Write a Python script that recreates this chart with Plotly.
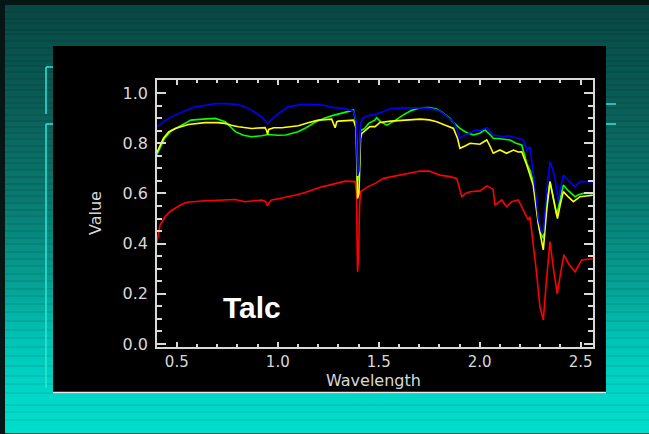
import plotly.graph_objects as go

# ---------------- data ----------------
wl_blue = [0.40, 0.45, 0.49, 0.55, 0.59, 0.65, 0.69, 0.75, 0.79, 0.83, 0.87, 0.92, 0.95, 0.99,
           1.05, 1.10, 1.14, 1.18, 1.22, 1.28, 1.33, 1.375, 1.388, 1.395, 1.402, 1.41, 1.42, 1.45,
           1.48, 1.52, 1.56, 1.62, 1.66, 1.70, 1.75, 1.79, 1.82, 1.85, 1.87, 1.89, 1.90, 1.92,
           1.94, 1.96, 1.98, 2.00, 2.035, 2.05, 2.067, 2.09, 2.117, 2.14, 2.167, 2.19, 2.216,
           2.233, 2.249, 2.265, 2.28, 2.29, 2.305, 2.315, 2.33, 2.348, 2.36, 2.373, 2.389, 2.40,
           2.414, 2.44, 2.472, 2.497, 2.53, 2.56]
refl_blue = [0.865, 0.895, 0.912, 0.932, 0.945, 0.952, 0.958, 0.958, 0.955, 0.948, 0.932, 0.906,
             0.879, 0.91, 0.945, 0.952, 0.955, 0.954, 0.952, 0.942, 0.938, 0.928, 0.89, 0.67,
             0.69, 0.88, 0.899, 0.91, 0.915, 0.925, 0.938, 0.941, 0.942, 0.941, 0.939, 0.932,
             0.919, 0.90, 0.886, 0.85, 0.82, 0.83, 0.839, 0.845, 0.853, 0.85, 0.862, 0.85, 0.833,
             0.83, 0.826, 0.83, 0.826, 0.82, 0.813, 0.773, 0.786, 0.686, 0.58, 0.50, 0.45, 0.441,
             0.60, 0.726, 0.70, 0.66, 0.567, 0.62, 0.673, 0.65, 0.627, 0.647, 0.647, 0.647]

wl_green = [0.40, 0.44, 0.47, 0.51, 0.57, 0.63, 0.69, 0.74, 0.76, 0.79, 0.83, 0.87, 0.92, 0.95,
            1.00, 1.04, 1.10, 1.14, 1.19, 1.23, 1.27, 1.33, 1.375, 1.388, 1.395, 1.402, 1.41,
            1.43, 1.45, 1.48, 1.49, 1.51, 1.54, 1.58, 1.62, 1.66, 1.705, 1.75, 1.787, 1.82,
            1.853, 1.88, 1.902, 1.93, 1.968, 2.00, 2.026, 2.05, 2.067, 2.10, 2.15, 2.18, 2.208,
            2.233, 2.25, 2.265, 2.28, 2.298, 2.315, 2.33, 2.348, 2.365, 2.381, 2.40, 2.414,
            2.44, 2.472, 2.49, 2.513, 2.56]
refl_green = [0.753, 0.82, 0.848, 0.866, 0.892, 0.896, 0.899, 0.886, 0.87, 0.846, 0.832, 0.826,
              0.83, 0.835, 0.832, 0.833, 0.846, 0.862, 0.886, 0.90, 0.91, 0.923, 0.932, 0.88,
              0.65, 0.67, 0.85, 0.859, 0.879, 0.892, 0.902, 0.885, 0.872, 0.89, 0.912, 0.93,
              0.941, 0.942, 0.936, 0.92, 0.899, 0.875, 0.859, 0.845, 0.833, 0.84, 0.853, 0.835,
              0.82, 0.818, 0.813, 0.80, 0.793, 0.72, 0.69, 0.647, 0.55, 0.447, 0.421, 0.55,
              0.647, 0.58, 0.514, 0.58, 0.633, 0.61, 0.587, 0.595, 0.60, 0.60]

wl_yellow = [0.40, 0.434, 0.46, 0.492, 0.557, 0.64, 0.70, 0.739, 0.77, 0.805, 0.871, 0.937,
             0.945, 0.95, 0.955, 0.98, 1.02, 1.102, 1.15, 1.201, 1.267, 1.278, 1.284, 1.292,
             1.30, 1.34, 1.375, 1.388, 1.395, 1.402, 1.41, 1.416, 1.44, 1.456, 1.482, 1.506,
             1.56, 1.62, 1.705, 1.75, 1.787, 1.83, 1.87, 1.89, 1.902, 1.93, 1.952, 2.001, 2.035,
             2.05, 2.067, 2.10, 2.133, 2.167, 2.19, 2.208, 2.233, 2.265, 2.29, 2.315, 2.33,
             2.348, 2.365, 2.385, 2.40, 2.414, 2.44, 2.464, 2.497, 2.53, 2.56]
refl_yellow = [0.76, 0.82, 0.845, 0.859, 0.875, 0.882, 0.882, 0.879, 0.872, 0.866, 0.859, 0.862,
               0.85, 0.835, 0.855, 0.862, 0.862, 0.87, 0.882, 0.892, 0.896, 0.875, 0.862, 0.885,
               0.888, 0.89, 0.892, 0.86, 0.58, 0.60, 0.82, 0.839, 0.855, 0.866, 0.866, 0.883,
               0.888, 0.892, 0.896, 0.893, 0.886, 0.872, 0.859, 0.82, 0.78, 0.79, 0.80, 0.796,
               0.813, 0.79, 0.76, 0.773, 0.76, 0.773, 0.765, 0.766, 0.713, 0.633, 0.48, 0.375,
               0.52, 0.647, 0.58, 0.50, 0.56, 0.607, 0.585, 0.567, 0.587, 0.59, 0.593]

wl_red = [0.40, 0.417, 0.442, 0.467, 0.492, 0.52, 0.55, 0.60, 0.64, 0.70, 0.75, 0.789, 0.838,
          0.88, 0.921, 0.94, 0.949, 0.958, 0.97, 1.01, 1.052, 1.10, 1.135, 1.18, 1.218, 1.25,
          1.284, 1.333, 1.383, 1.39, 1.395, 1.40, 1.405, 1.41, 1.448, 1.482, 1.523, 1.57, 1.62,
          1.66, 1.705, 1.75, 1.803, 1.853, 1.886, 1.911, 1.93, 1.952, 2.001, 2.035, 2.066,
          2.076, 2.109, 2.133, 2.158, 2.191, 2.224, 2.24, 2.249, 2.265, 2.282, 2.298, 2.315,
          2.33, 2.348, 2.365, 2.384, 2.40, 2.417, 2.44, 2.472, 2.505, 2.53, 2.56]
refl_red = [0.40, 0.474, 0.507, 0.528, 0.541, 0.555, 0.565, 0.569, 0.571, 0.573, 0.575, 0.576,
            0.567, 0.572, 0.574, 0.568, 0.551, 0.565, 0.574, 0.58, 0.587, 0.596, 0.604, 0.616,
            0.627, 0.632, 0.64, 0.649, 0.647, 0.60, 0.288, 0.35, 0.55, 0.607, 0.627, 0.64,
            0.66, 0.667, 0.676, 0.683, 0.689, 0.689, 0.673, 0.667, 0.66, 0.587, 0.60, 0.607,
            0.61, 0.63, 0.617, 0.554, 0.574, 0.547, 0.567, 0.574, 0.52, 0.494, 0.507, 0.408,
            0.28, 0.149, 0.096, 0.25, 0.408, 0.30, 0.20, 0.28, 0.355, 0.32, 0.288, 0.335, 0.338,
            0.34]

x_ticks = [0.5, 1.0, 1.5, 2.0, 2.5]
y_ticks = [0.0, 0.2, 0.4, 0.6, 0.8, 1.0]
x_title = "Wavelength"
y_title = "Value"
label_text = "Talc"

# ---------------- geometry helpers ----------------
W, H = 649, 434
PL, PR, PT, PB = 157, 593, 80, 347
PW, PH = PR - PL, PB - PT


def px(x):
    return (x - PL) / PW


def py(y):
    return (PB - y) / PH


def rect(x0, y0, x1, y1, color):
    return dict(type="rect", xref="paper", yref="paper", layer="below",
                x0=px(x0), x1=px(x1), y0=py(y1), y1=py(y0),
                line=dict(width=0), fillcolor=color)


def hline(x0, x1, y, color, w=1.5):
    return dict(type="line", xref="paper", yref="paper", layer="below",
                x0=px(x0), x1=px(x1), y0=py(y), y1=py(y),
                line=dict(color=color, width=w))


def vline(x, y0, y1, color, w=1.5):
    return dict(type="line", xref="paper", yref="paper", layer="below",
                x0=px(x), x1=px(x), y0=py(y0), y1=py(y1),
                line=dict(color=color, width=w))


# background gradient (decoration)
stops = [(5, (8, 72, 68)), (100, (10, 92, 86)), (200, (9, 122, 113)),
         (280, (5, 158, 146)), (340, (0, 196, 182)), (390, (0, 214, 198)), (433, (0, 222, 204))]


def grad(y):
    for (ya, ca), (yb, cb) in zip(stops[:-1], stops[1:]):
        if ya <= y <= yb:
            t = (y - ya) / (yb - ya)
            return tuple(int(round(a + (b - a) * t)) for a, b in zip(ca, cb))
    return stops[-1][1]


shapes = []
y = 5
while y < 433:
    c = grad(y + 1)
    shapes.append(rect(5, y, W + 1, y + 2.2, "rgb(%d,%d,%d)" % c))
    y += 2
# darker horizontal stripes
stripe_ys = [12, 19, 23, 30, 34, 41, 48, 55, 61, 66, 72, 79, 85, 90, 97, 103, 108, 115, 121,
             127, 133, 139, 146, 152, 158, 163, 170, 177, 184, 190, 196, 203, 210, 216, 224,
             231, 238, 244, 252, 259, 266, 274, 281, 289, 296, 304, 312, 321, 330, 338, 347,
             356, 366, 376, 384, 393, 405, 412, 420]
for sy in stripe_ys:
    c = grad(sy)
    dc = tuple(max(0, int(v * 0.85)) for v in c)
    shapes.append(hline(5, W + 1, sy, "rgb(%d,%d,%d)" % dc, 1))

# decorative cyan brackets
cy = "#2fe6d6"
shapes += [vline(46, 67, 114, cy), hline(46, 53, 67, cy),
           vline(46, 124, 388, cy), hline(46, 53, 124, cy),
           hline(606, 616, 104, cy), hline(606, 616, 124, cy)]
# black panel
shapes.append(rect(53, 46, 606, 392, "black"))
shapes.append(hline(53, 606, 392.5, "#e8e8e8", 1.5))

fig = go.Figure()
for xs, ys, col in [(wl_red, refl_red, "#ff0000"), (wl_green, refl_green, "#00ff00"),
                    (wl_yellow, refl_yellow, "#ffff00"), (wl_blue, refl_blue, "#0000ff")]:
    fig.add_trace(go.Scatter(x=xs, y=ys, mode="lines", line=dict(color=col, width=1.6),
                             showlegend=False, hoverinfo="skip"))

axcol = "#d8d8d8"
font = dict(family="DejaVu Sans", size=16, color=axcol)
xfont = dict(family="DejaVu Sans", size=15, color=axcol)
fig.update_xaxes(range=[0.402, 2.561], tickvals=x_ticks, ticktext=["%.1f" % v for v in x_ticks],
                 ticks="inside", ticklen=5, tickwidth=1.5, tickcolor=axcol,
                 minor=dict(dtick=0.1, tick0=0.0, ticks="inside", ticklen=3, tickwidth=1.5,
                            tickcolor=axcol),
                 showline=True, linecolor=axcol, linewidth=1.5, mirror="ticks",
                 showgrid=False, zeroline=False, tickfont=xfont)
fig.update_yaxes(range=[-0.012, 1.052], tickvals=y_ticks, ticktext=["%.1f" % v for v in y_ticks],
                 ticks="inside", ticklen=9, tickwidth=1.5, tickcolor=axcol,
                 minor=dict(dtick=0.05, tick0=0.0, ticks="inside", ticklen=5, tickwidth=1.5,
                            tickcolor=axcol),
                 showline=True, linecolor=axcol, linewidth=1.5, mirror="ticks",
                 showgrid=False, zeroline=False, tickfont=font, ticklabelstandoff=4)

# axis titles placed as text at the reference positions
fig.add_annotation(x=px(373), y=py(380), xref="paper", yref="paper", text=x_title,
                   showarrow=False, xanchor="center", yanchor="middle",
                   font=dict(family="DejaVu Sans", size=16, color=axcol))
fig.add_annotation(x=px(95), y=py(213), xref="paper", yref="paper", text=y_title,
                   showarrow=False, xanchor="center", yanchor="middle", textangle=-90,
                   font=dict(family="DejaVu Sans", size=16, color=axcol))

fig.add_annotation(x=0.873, y=0.147, xref="x", yref="y", text="<b>%s</b>" % label_text,
                   showarrow=False, font=dict(family="Liberation Sans", size=30, color="white"))

fig.update_layout(width=W, height=H, margin=dict(l=PL, r=W - PR, t=PT, b=H - PB),
                  paper_bgcolor="#061614", plot_bgcolor="black", shapes=shapes)

fig.write_html("out.html")
